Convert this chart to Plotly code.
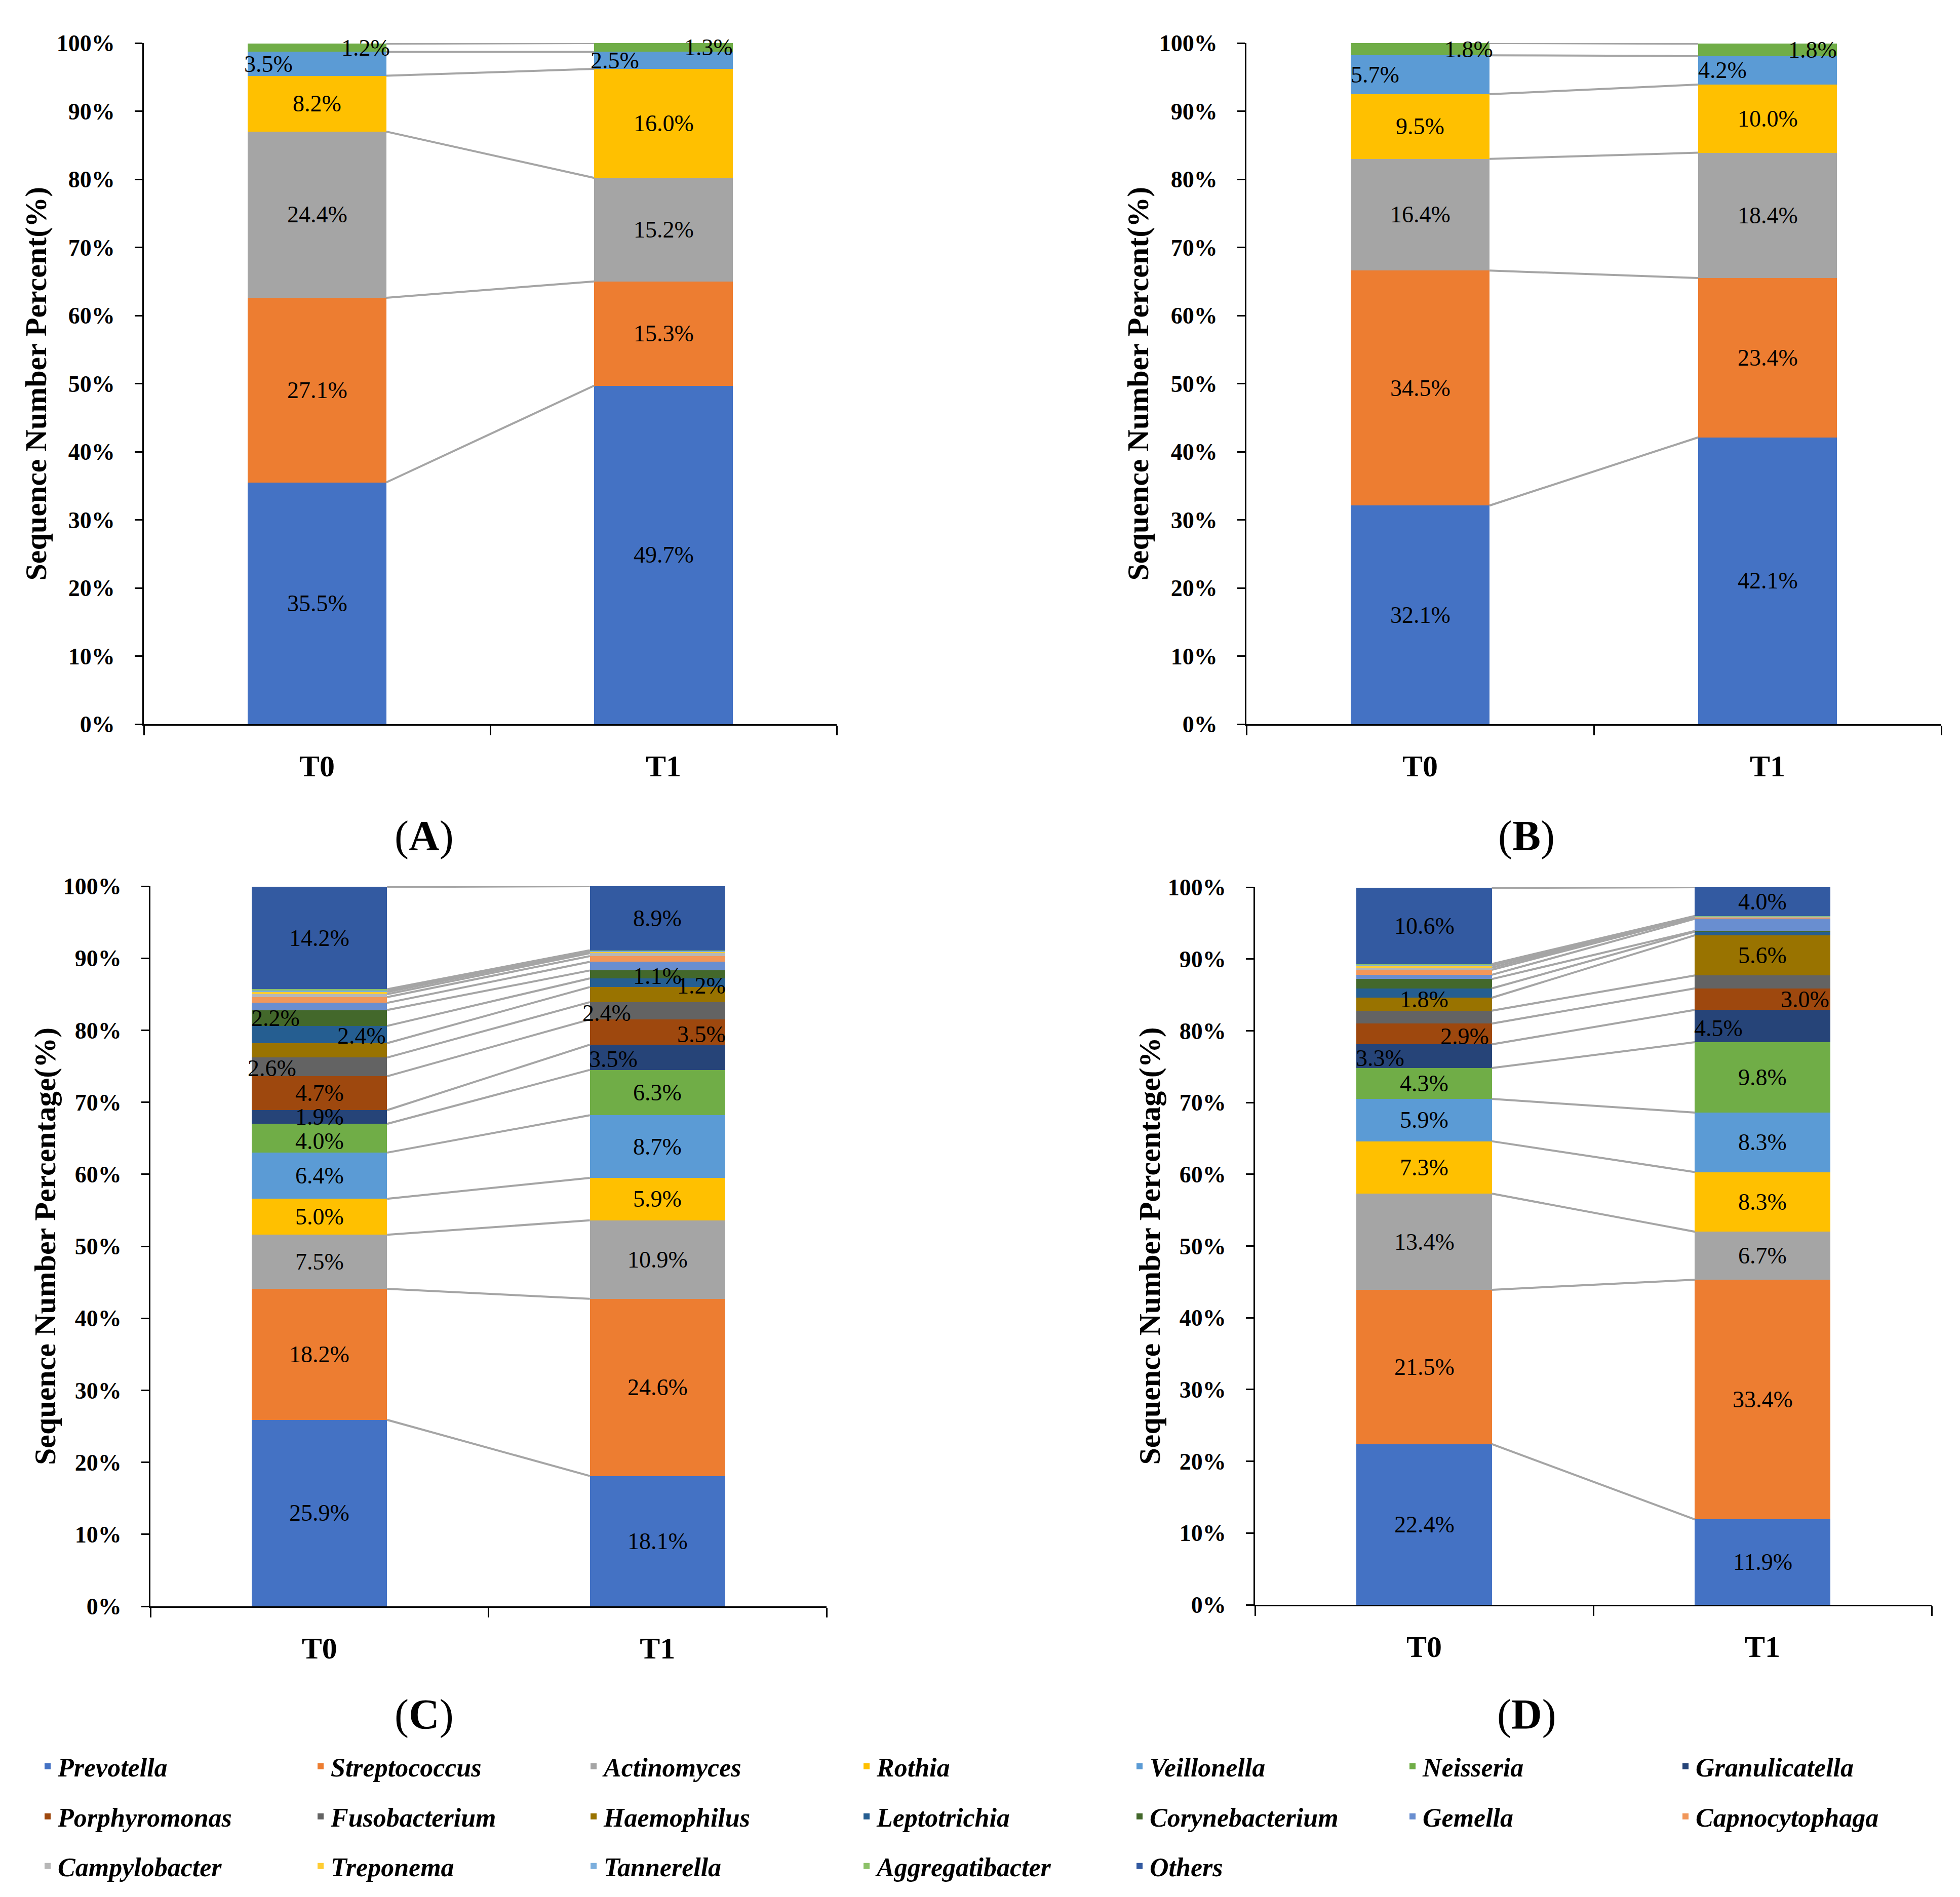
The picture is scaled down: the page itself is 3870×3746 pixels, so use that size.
import plotly.graph_objs as go

W, H = 3870, 3746

species = ['Prevotella', 'Streptococcus', 'Actinomyces', 'Rothia', 'Veillonella', 'Neisseria',
           'Granulicatella', 'Porphyromonas', 'Fusobacterium', 'Haemophilus', 'Leptotrichia',
           'Corynebacterium', 'Gemella', 'Capnocytophaga', 'Campylobacter', 'Treponema',
           'Tannerella', 'Aggregatibacter', 'Others']
colors = ['#4472C4', '#ED7D31', '#A5A5A5', '#FFC000', '#5B9BD5', '#70AD47',
          '#264478', '#9E480E', '#636363', '#997300', '#255E91',
          '#43682B', '#698ED0', '#F1975A', '#B7B7B7', '#FFCD33',
          '#7CAFDD', '#8CC168', '#335AA1']
groups = ['T0', 'T1']

# percentages per genus, bottom to top
a_t0 = [35.5, 27.1, 24.4, 8.2, 3.5, 1.2]
a_t1 = [49.7, 15.3, 15.2, 16.0, 2.5, 1.3]
b_t0 = [32.1, 34.5, 16.4, 9.5, 5.7, 1.8]
b_t1 = [42.1, 23.4, 18.4, 10.0, 4.2, 1.8]
c_t0 = [25.9, 18.2, 7.5, 5.0, 6.4, 4.0, 1.9, 4.7, 2.6, 2.0, 2.4, 2.2, 1.0, 0.8, 0.4, 0.3, 0.2, 0.2, 14.2]
c_t1 = [18.1, 24.6, 10.9, 5.9, 8.7, 6.3, 3.5, 3.5, 2.4, 2.1, 1.2, 1.1, 1.2, 0.8, 0.4, 0.2, 0.1, 0.1, 8.9]
d_t0 = [22.4, 21.5, 13.4, 7.3, 5.9, 4.3, 3.3, 2.9, 1.8, 1.8, 1.3, 1.3, 0.6, 0.7, 0.3, 0.3, 0.1, 0.1, 10.6]
d_t1 = [11.9, 33.4, 6.7, 8.3, 8.3, 9.8, 4.5, 3.0, 1.8, 5.6, 0.5, 0.1, 1.7, 0.2, 0.05, 0.05, 0.05, 0.05, 4.0]

# which segments carry a value label
c_t0_lab = [0, 1, 2, 3, 4, 5, 6, 7, 8, 10, 11, 18]
c_t1_lab = [0, 1, 2, 3, 4, 5, 6, 7, 8, 10, 11, 18]
d_t0_lab = [0, 1, 2, 3, 4, 5, 6, 7, 9, 18]
d_t1_lab = [0, 1, 2, 3, 4, 5, 6, 7, 9, 18]

# label nudges (x in bar units, y in %), like the dragged labels in the original
nudge = {
    ('A', 0, 4): (-0.14, 0), ('A', 0, 5): (0.14, 0), ('A', 1, 4): (-0.14, 0), ('A', 1, 5): (0.13, 0),
    ('B', 0, 4): (-0.13, 0), ('B', 0, 5): (0.14, 0), ('B', 1, 4): (-0.13, 0), ('B', 1, 5): (0.13, 0),
    ('C', 0, 11): (-0.13, 0), ('C', 0, 10): (0.125, -0.2), ('C', 0, 8): (-0.14, -0.2),
    ('C', 0, 6): (0, 0), ('C', 0, 5): (0, -0.4),
    ('C', 1, 11): (0, -0.2), ('C', 1, 10): (0.13, -0.4), ('C', 1, 8): (-0.15, -0.3),
    ('C', 1, 7): (0.13, -0.3), ('C', 1, 6): (-0.13, -0.3),
    ('D', 0, 9): (0, 0.7), ('D', 0, 7): (0.12, -0.3), ('D', 0, 6): (-0.13, -0.3),
    ('D', 1, 7): (0.125, 0), ('D', 1, 6): (-0.13, -0.3),
}

panels = [
    ('A', 'x', 'y', [a_t0, a_t1], [range(6), range(6)]),
    ('B', 'x2', 'y2', [b_t0, b_t1], [range(6), range(6)]),
    ('C', 'x3', 'y3', [c_t0, c_t1], [c_t0_lab, c_t1_lab]),
    ('D', 'x4', 'y4', [d_t0, d_t1], [d_t0_lab, d_t1_lab]),
]

FONT = 'Liberation Serif'
legend_ids = ['legend', 'legend2', 'legend3']
fig = go.Figure()
annotations = []

for name, xa, ya, bars, shown in panels:
    n = len(bars[0])
    for i in range(n):
        fig.add_trace(go.Bar(
            x=[0, 1], y=[bars[0][i], bars[1][i]], width=0.4,
            marker=dict(color=colors[i], line=dict(width=0)),
            name=species[i], legendgroup=species[i], legend=legend_ids[i // 7],
            showlegend=(name == 'C'), xaxis=xa, yaxis=ya, hoverinfo='skip'))
    # series lines between the two stacks
    cum0 = cum1 = 0
    for i in range(n):
        cum0 += bars[0][i]
        cum1 += bars[1][i]
        fig.add_trace(go.Scatter(x=[0.2, 0.8], y=[cum0, cum1], mode='lines',
                                 line=dict(color='#A5A5A5', width=4),
                                 showlegend=False, xaxis=xa, yaxis=ya, hoverinfo='skip'))
    # value labels
    for b in range(2):
        base = 0
        for i in range(n):
            v = bars[b][i]
            if i in shown[b]:
                dx, dy = nudge.get((name, b, i), (0, 0))
                annotations.append(dict(
                    x=b + dx, y=base + v / 2 + dy, xref=xa, yref=ya, text='%.1f%%' % v,
                    xanchor='center', yanchor='middle', showarrow=False,
                    font=dict(family=FONT, size=46, color='black')))
            base += v

dom = {
    'A': ([276, 1644], [77, 1422]),
    'B': ([2453, 3825], [77, 1422]),
    'C': ([289, 1624], [1742, 3164]),
    'D': ([2470, 3806], [1744, 3161]),
}
titles = {'A': 'Sequence Number Percent(%)', 'B': 'Sequence Number Percent(%)',
          'C': 'Sequence Number Percentage(%)', 'D': 'Sequence Number Percentage(%)'}
title_x = {'A': 62, 'B': 2238, 'C': 81, 'D': 2261}
tag_pos = {'A': (829, 1643), 'B': (3006, 1643), 'C': (829, 3378), 'D': (3006, 3378)}

layout = {}
for k, (name, xa, ya, bars, shown) in enumerate(panels):
    (x0, x1), (y0, y1) = dom[name]
    sfx = '' if k == 0 else str(k + 1)
    layout['xaxis' + sfx] = dict(
        domain=[x0 / W, x1 / W], anchor=ya, range=[-0.5, 1.5], automargin=False,
        tickvals=[0, 1], ticktext=groups, ticks='', ticklabelstandoff=28,
        tickfont=dict(family=FONT, size=60, color='black', weight='bold'),
        showline=True, linecolor='black', linewidth=3, showgrid=False, zeroline=False,
        minor=dict(tickvals=[-0.5, 0.5, 1.5], ticks='outside', ticklen=19, tickwidth=3,
                   tickcolor='black', showgrid=False))
    layout['yaxis' + sfx] = dict(
        domain=[1 - y1 / H, 1 - y0 / H], anchor=xa, range=[0, 100], dtick=10,
        automargin=False, ticksuffix='%', ticks='outside', ticklen=15, tickwidth=3,
        tickcolor='black', ticklabelstandoff=30,
        tickfont=dict(family=FONT, size=46, color='black', weight='bold'),
        showline=True, linecolor='black', linewidth=3, showgrid=False, zeroline=False)
    annotations.append(dict(
        x=title_x[name] / W, y=1 - (y0 + y1) / 2 / H, xref='paper', yref='paper',
        xanchor='center', yanchor='middle',
        text='<b>' + titles[name] + '</b>', textangle=-90, showarrow=False,
        font=dict(family=FONT, size=60, color='black')))
    tx, ty = tag_pos[name]
    annotations.append(dict(
        x=tx / W, y=1 - ty / H, xref='paper', yref='paper', xanchor='center', yanchor='middle',
        text='(<b>' + name + '</b>)', showarrow=False,
        font=dict(family=FONT, size=84, color='black')))

legend_rows_y = [3480, 3579, 3677]
for lid, ry in zip(legend_ids, legend_rows_y):
    layout[lid] = dict(
        orientation='h', x=66 / W, xanchor='left', y=1 - ry / H, yanchor='middle',
        entrywidth=494, traceorder='normal', bgcolor='rgba(0,0,0,0)',
        font=dict(family=FONT, size=52, color='black', style='italic', weight='bold'))

fig.update_layout(
    width=W, height=H, barmode='stack', plot_bgcolor='white', paper_bgcolor='white',
    margin=dict(l=0, r=0, t=0, b=0, autoexpand=False), annotations=annotations,
    **layout)

fig.write_html('out.html')
